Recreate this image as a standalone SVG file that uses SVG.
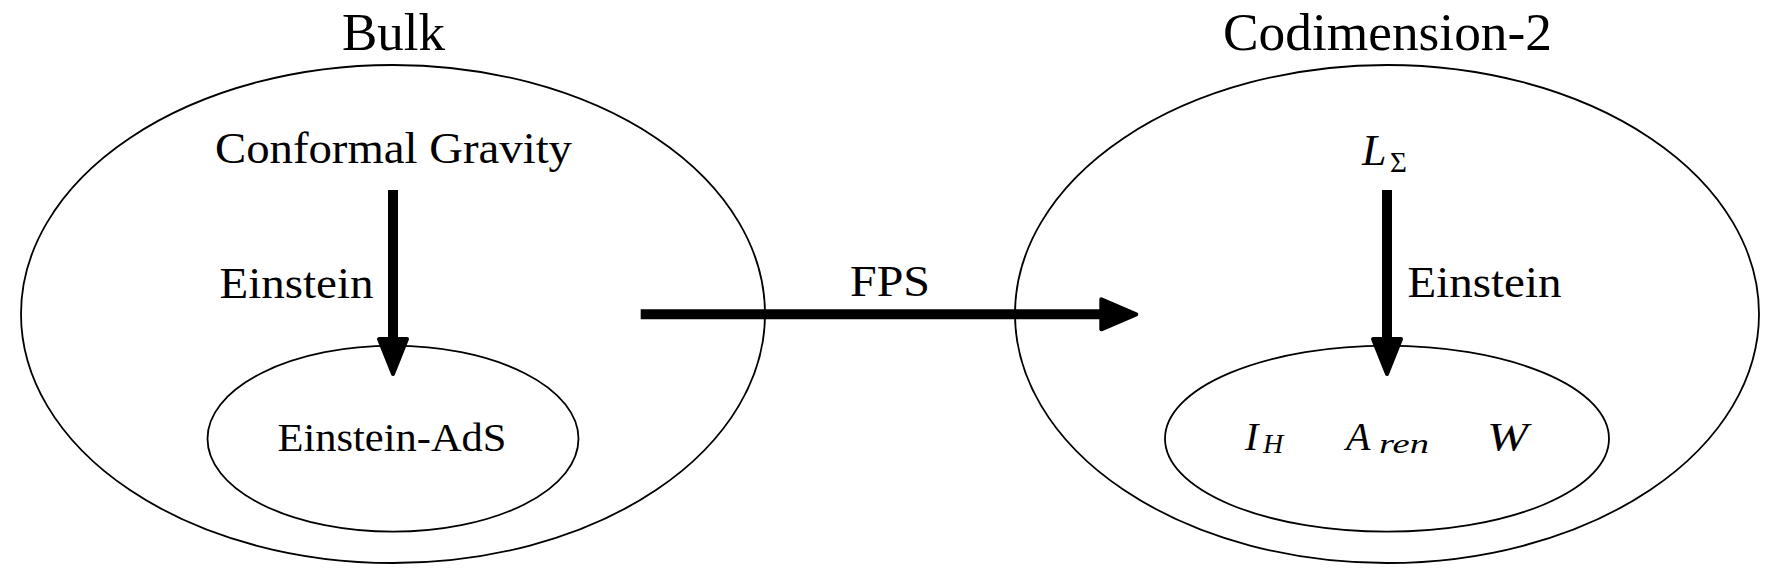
<svg xmlns="http://www.w3.org/2000/svg" width="1778" height="570" viewBox="0 0 1778 570">
<style>
  .ell { fill: none; stroke: #000; stroke-width: 1.8; }
  .t { font-family: 'Liberation Serif', 'Times New Roman', serif; fill: #000; }
  .m { font-family: 'Liberation Serif', 'Times New Roman', serif; font-style: italic; fill: #000; }
  .shaft { stroke: #000; stroke-width: 10; fill: none; }
  .head { fill: #000; stroke: #000; stroke-width: 4; stroke-linejoin: round; }
</style>
<rect width="1778" height="570" fill="#fff"/>

<g id="bulk">
  <ellipse class="ell" cx="393" cy="314" rx="372" ry="249"/>
  <text class="t" x="342" y="50" font-size="52" textLength="103" lengthAdjust="spacingAndGlyphs">Bulk</text>
</g>
<g id="conformal-gravity">
  <text class="t" x="215" y="163" font-size="44" textLength="357" lengthAdjust="spacingAndGlyphs">Conformal Gravity</text>
</g>
<g id="einstein-ads">
  <ellipse class="ell" cx="393" cy="438.7" rx="185.5" ry="93"/>
  <text class="t" x="277.5" y="451" font-size="40" textLength="229" lengthAdjust="spacingAndGlyphs">Einstein-AdS</text>
</g>

<g id="codimension-2">
  <ellipse class="ell" cx="1387" cy="314" rx="372" ry="249"/>
  <text class="t" x="1223" y="50" font-size="52" textLength="329" lengthAdjust="spacingAndGlyphs">Codimension-2</text>
</g>
<g id="L-sigma">
  <text class="m" x="1362" y="165" font-size="44">L</text>
  <text class="t" x="1390" y="171.7" font-size="29">Σ</text>
</g>
<g id="observables">
  <ellipse class="ell" cx="1387" cy="438.7" rx="222" ry="93"/>
  <text class="m" x="1245" y="450" font-size="40">I</text>
  <text class="m" x="1263" y="453.3" font-size="28">H</text>
  <text class="m" x="1346" y="450" font-size="40">A</text>
  <text class="m" x="1379" y="453.3" font-size="28" textLength="50" lengthAdjust="spacingAndGlyphs">ren</text>
  <text class="m" x="1487" y="450" font-size="40" textLength="41" lengthAdjust="spacingAndGlyphs">W</text>
</g>

<g id="connectors">
  <line class="shaft" x1="393" y1="190" x2="393" y2="342"/>
  <polygon class="head" points="379,339 407,339 393,374"/>
  <text class="t" x="219.5" y="298.3" font-size="44" textLength="154" lengthAdjust="spacingAndGlyphs">Einstein</text>

  <line class="shaft" x1="1387" y1="190" x2="1387" y2="342"/>
  <polygon class="head" points="1373,339 1401,339 1387,374"/>
  <text class="t" x="1407.5" y="297" font-size="44" textLength="154" lengthAdjust="spacingAndGlyphs">Einstein</text>

  <line class="shaft" x1="640.7" y1="314.3" x2="1104" y2="314.3"/>
  <polygon class="head" points="1101.3,299.3 1136.3,314.3 1101.3,329.3"/>
  <text class="t" x="850" y="295.7" font-size="44" textLength="80" lengthAdjust="spacingAndGlyphs">FPS</text>
</g>
</svg>
